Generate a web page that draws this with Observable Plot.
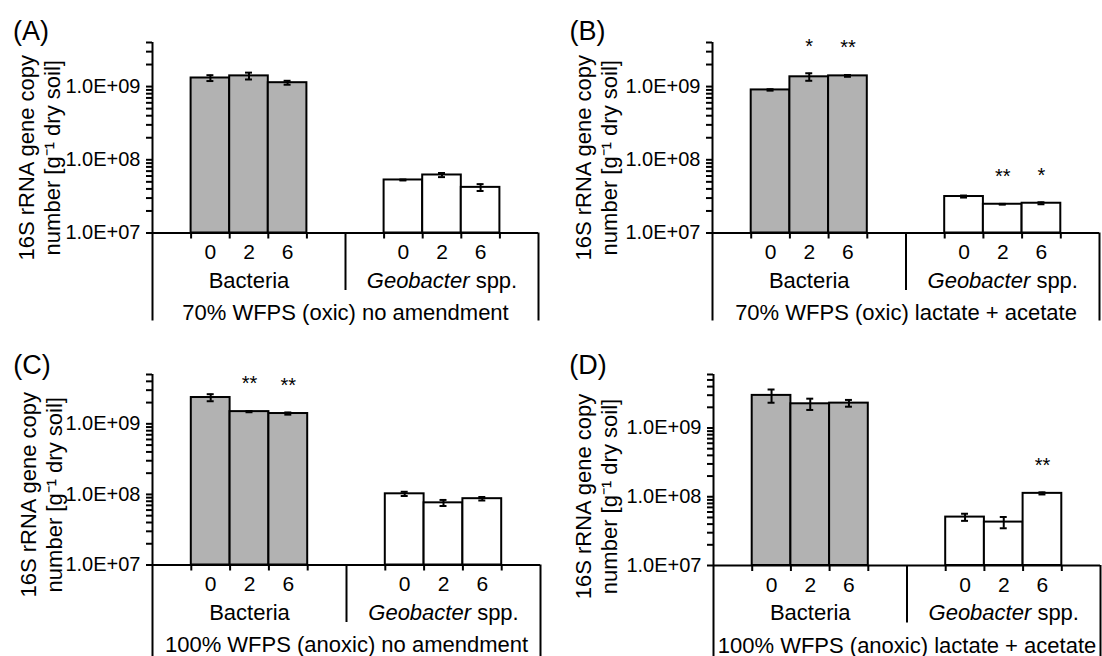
<!DOCTYPE html>
<html>
<head>
<meta charset="utf-8">
<script src="https://cdn.jsdelivr.net/npm/d3@7"></script>
<script src="https://cdn.jsdelivr.net/npm/@observablehq/plot@0.6"></script>
<style>
  html, body { margin: 0; padding: 0; background: #fff; }
  #wrap { position: relative; width: 1102px; height: 656px; overflow: hidden; background: #fff; }
  .panel { position: absolute; }
</style>
</head>
<body>
<div id="wrap"></div>
<script>
// ---------------- DATA ----------------
const panelLetters = ["(A)", "(B)", "(C)", "(D)"];
const conditions = [
  "70% WFPS (oxic) no amendment",
  "70% WFPS (oxic) lactate + acetate",
  "100% WFPS (anoxic) no amendment",
  "100% WFPS (anoxic) lactate + acetate"
];
const groups = ["Bacteria", "Geobacter"];
const groupSuffix = ["", "\u00a0spp."];
const groupItalic = [false, true];
const days = ["0", "2", "6"];
const yTickValues = [1e7, 1e8, 1e9];
const yTickLabels = ["1.0E+07", "1.0E+08", "1.0E+09"];
const yMax = [4e9, 4e9, 5e9, 6e9];
const yTitle = "16S rRNA gene copy\nnumber [g\u207B\u00B9 dry soil]";

// order: Bacteria 0,2,6 then Geobacter 0,2,6
const valuesA = [1.31e9, 1.40e9, 1.13e9, 5.3e7, 6.2e7, 4.2e7];
const errorsA = [0.12e9, 0.15e9, 0.07e9, 0.08e7, 0.4e7, 0.45e7];
const starsA  = ["", "", "", "", "", ""];

const valuesB = [9.0e8, 1.36e9, 1.40e9, 3.15e7, 2.47e7, 2.55e7];
const errorsB = [0.2e8, 0.16e9, 0.04e9, 0.1e7, 0.03e7, 0.08e7];
const starsB  = ["", "*", "**", "", "**", "*"];

const valuesC = [2.36e9, 1.49e9, 1.40e9, 1.02e8, 7.6e7, 8.7e7];
const errorsC = [0.27e9, 0.03e9, 0.05e9, 0.07e8, 0.75e7, 0.5e7];
const starsC  = ["", "**", "**", "", "", ""];

const valuesD = [2.98e9, 2.25e9, 2.30e9, 5.06e7, 4.28e7, 1.12e8];
const errorsD = [0.65e9, 0.42e9, 0.26e9, 0.6e7, 0.8e7, 0.04e8];
const starsD  = ["", "", "", "", "", "**"];

const allValues = [valuesA, valuesB, valuesC, valuesD];
const allErrors = [errorsA, errorsB, errorsC, errorsD];
const allStars  = [starsA, starsB, starsC, starsD];

// ---------------- LAYOUT ----------------
const W = 551, H = 328;
const FONT = "'Liberation Sans', Arial, Helvetica, sans-serif";
const GRAY = "#b2b2b2";
const layouts = [
  {left: 0,   top: 0,   mL: 152, mR: 13, mT: 42, mB: 95.5, outer: 88, letter: [30.5, 31],   title: [38, 20]},
  {left: 551, top: 0,   mL: 161, mR: 3,  mT: 42, mB: 95.5, outer: 88, letter: [36, 31],     title: [44, 20]},
  {left: 0,   top: 328, mL: 152, mR: 11, mT: 46, mB: 91.5, outer: 92, letter: [31.5, 37],   title: [40, 25]},
  {left: 551, top: 328, mL: 162, mR: 2,  mT: 46, mB: 91,   outer: 92, letter: [36.5, 36.5], title: [44, 26.5]}
];
const xTickSlots = [1, 2, 3, 4, 6, 7, 8, 9];

const ctx = document.createElement("canvas").getContext("2d");
function textWidth(s, size, italic) {
  ctx.font = `${italic ? "italic " : ""}${size}px ${FONT}`;
  return ctx.measureText(s).width;
}

const labelSize = 22;

function panel(i) {
  const L = layouts[i];
  const rows = allValues[i].map((v, j) => ({
    group: groups[Math.floor(j / 3)],
    day: days[j % 3],
    slot: Math.floor(j / 3) * 5 + 1 + (j % 3),
    v, e: allErrors[i][j], star: allStars[i][j]
  }));
  const groupRows = groups.map((g, k) => {
    const slots = rows.filter(r => r.group === g).map(r => r.slot + 0.5);
    const wMain = textWidth(g, labelSize, groupItalic[k]);
    const wSuf = textWidth(groupSuffix[k], labelSize, false);
    return {label: g, suffix: groupSuffix[k], italic: groupItalic[k], x: d3.mean(slots), split: wMain - (wMain + wSuf) / 2};
  });
  const fmtY = d => { const k = yTickValues.indexOf(d); return k >= 0 ? yTickLabels[k] : ""; };

  const groupMarks = groupRows.flatMap(g => [
    Plot.text([g], {x: "x", text: "label", frameAnchor: "bottom", dy: 47.5, dx: g.split, fontSize: labelSize,
      fontStyle: g.italic ? "italic" : "normal", textAnchor: "end", lineAnchor: "middle"}),
    g.suffix ? Plot.text([g], {x: "x", text: "suffix", frameAnchor: "bottom", dy: 47.5, dx: g.split, fontSize: labelSize,
      textAnchor: "start", lineAnchor: "middle"}) : null
  ]);

  return Plot.plot({
    width: W, height: H,
    marginLeft: L.mL, marginRight: L.mR, marginTop: L.mT, marginBottom: L.mB,
    style: {fontFamily: FONT, fontSize: "20px", color: "#000", background: "transparent", overflow: "visible"},
    x: {type: "linear", domain: [0, 10]},
    y: {type: "log", domain: [1e7, yMax[i]]},
    color: {domain: groups, range: [GRAY, "#ffffff"]},
    marks: [
      Plot.rect(rows, {x1: "slot", x2: d => d.slot + 1, y1: d => 1e7, y2: "v", fill: "group", stroke: "#000", strokeWidth: 2}),
      Plot.ruleX(rows, {x: d => d.slot + 0.5, y1: d => d.v - d.e, y2: d => d.v + d.e, stroke: "#000", strokeWidth: 2}),
      Plot.ruleY(rows, {y: d => d.v + d.e, x1: d => d.slot + 0.41, x2: d => d.slot + 0.59, stroke: "#000", strokeWidth: 2}),
      Plot.ruleY(rows, {y: d => d.v - d.e, x1: d => d.slot + 0.41, x2: d => d.slot + 0.59, stroke: "#000", strokeWidth: 2}),
      Plot.text(rows.filter(d => d.star), {x: d => d.slot + 0.5, y: d => d.v + d.e, text: "star", dy: -27, fontSize: 20}),
      // axes
      Plot.ruleX([0], {stroke: "#000", strokeWidth: 2}),
      Plot.ruleY([1e7], {stroke: "#000", strokeWidth: 2}),
      Plot.axisY({ticks: 30, tickSize: 6, tickPadding: 6, tickFormat: fmtY, stroke: "#000", strokeWidth: 2, fontSize: 20, label: null}),
      Plot.axisX({ticks: xTickSlots, tickSize: 6, tickFormat: () => "", stroke: "#000", strokeWidth: 2, label: null}),
      Plot.axisX({ticks: [5], tickSize: 57.5, tickFormat: () => "", stroke: "#000", strokeWidth: 2, label: null}),
      Plot.axisX({ticks: [0, 10], tickSize: L.outer, tickFormat: () => "", stroke: "#000", strokeWidth: 2, label: null}),
      // category labels
      Plot.text(rows, {x: d => d.slot + 0.5, text: "day", frameAnchor: "bottom", dy: 19.5, fontSize: 21, textAnchor: "middle", lineAnchor: "middle"}),
      ...groupMarks,
      Plot.text([conditions[i]], {x: 5, frameAnchor: "bottom", dy: 80, fontSize: labelSize, textAnchor: "middle", lineAnchor: "middle"}),
      // y title & panel letter
      Plot.text([yTitle], {frameAnchor: "left", dx: L.title[0] - L.mL, dy: L.title[1], rotate: -90, fontSize: 22, lineHeight: 1.2, textAnchor: "middle", lineAnchor: "middle"}),
      Plot.text([panelLetters[i]], {frameAnchor: "top-left", dx: L.letter[0] - L.mL, dy: L.letter[1] - L.mT, fontSize: 27, textAnchor: "middle", lineAnchor: "middle"})
    ]
  });
}

const wrap = document.getElementById("wrap");
layouts.forEach((L, i) => {
  const div = document.createElement("div");
  div.className = "panel";
  div.style.left = L.left + "px";
  div.style.top = L.top + "px";
  div.appendChild(panel(i));
  wrap.appendChild(div);
});
</script>
</body>
</html>
